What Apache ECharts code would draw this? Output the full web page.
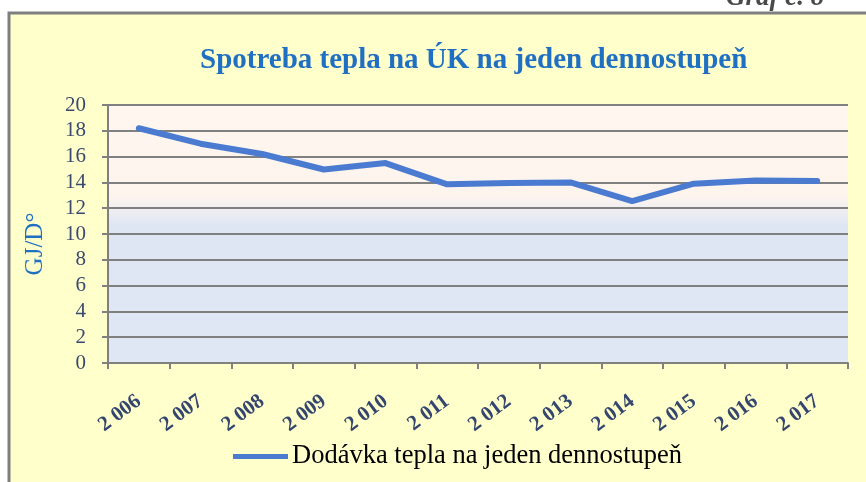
<!DOCTYPE html>
<html>
<head>
<meta charset="utf-8">
<script src="https://cdn.jsdelivr.net/npm/echarts@6/dist/echarts.min.js"></script>
<style>
    html, body { margin: 0; padding: 0; background: #ffffff; }
    #chart { width: 866px; height: 482px; }
</style>
</head>
<body>
<div id="chart"></div>
<script>
    // data
    var years = ['2 006', '2 007', '2 008', '2 009', '2 010', '2 011', '2 012', '2 013', '2 014', '2 015', '2 016', '2 017'];
    var heatPerDegreeDay = [18.2, 17.0, 16.2, 15.0, 15.5, 13.85, 13.95, 14.0, 12.55, 13.9, 14.15, 14.1];
    var seriesName = 'Dodávka tepla na jeden dennostupeň';
    var titleText = 'Spotreba tepla na ÚK na jeden dennostupeň';
    var yName = 'GJ/D°';

    var chart = echarts.init(document.getElementById('chart'));
    var serif = '"Liberation Serif", "DejaVu Serif", serif';

    chart.setOption({
        backgroundColor: '#ffffff',
        animation: false,
        graphic: [
            {
                type: 'rect',
                z: -10,
                shape: { x: 9, y: 13, width: 900, height: 500 },
                style: { fill: '#FFFFCC', stroke: '#7f7f7f', lineWidth: 3 }
            },
            {
                type: 'text',
                left: 726,
                top: -15,
                style: {
                    text: 'Graf č. 8',
                    font: 'italic bold 27px ' + serif,
                    fill: '#4a4a4a'
                }
            },
            {
                // y axis name, placed by hand so it sits a bit below the axis middle
                type: 'text',
                x: 35,
                y: 244,
                rotation: Math.PI / 2,
                style: {
                    text: yName,
                    font: '25px ' + serif,
                    fill: '#1F6FC2',
                    align: 'center',
                    verticalAlign: 'middle'
                }
            }
        ],
        title: {
            text: titleText,
            left: 195,
            top: 41,
            textStyle: {
                fontFamily: serif,
                fontWeight: 'bold',
                fontSize: 29,
                color: '#1F6FC2'
            }
        },
        legend: {
            bottom: 7,
            left: 228,
            itemWidth: 55,
            itemHeight: 5,
            itemGap: 4,
            textStyle: {
                fontFamily: serif,
                fontSize: 26.5,
                color: '#000000',
                padding: [0, 0, 0, -1]
            },
            data: [{ name: seriesName, icon: 'path://M0,0 L55,0 L55,5 L0,5 Z' }]
        },
        grid: {
            left: 108,
            right: 18,
            top: 105,
            bottom: 119,
            show: true,
            borderWidth: 0,
            backgroundColor: new echarts.graphic.LinearGradient(0, 0, 0, 1, [
                { offset: 0, color: '#FEF6EF' },
                { offset: 0.355, color: '#FDF4EE' },
                { offset: 0.47, color: '#DEE6F4' },
                { offset: 1, color: '#E0E7F4' }
            ])
        },
        xAxis: {
            type: 'category',
            data: years,
            boundaryGap: true,
            axisLine: { lineStyle: { color: '#808080', width: 2 } },
            axisTick: { show: true, length: 6, alignWithLabel: false, lineStyle: { color: '#808080', width: 2 } },
            axisLabel: {
                rotate: 37,
                margin: 36,
                fontFamily: serif,
                fontWeight: 'bold',
                fontSize: 21,
                color: '#34466E'
            }
        },
        yAxis: {
            type: 'value',
            min: 0,
            max: 20,
            interval: 2,
            axisLine: { show: true, lineStyle: { color: '#808080', width: 2 } },
            axisTick: { show: true, length: 6, lineStyle: { color: '#808080', width: 2 } },
            axisLabel: {
                margin: 22,
                fontFamily: serif,
                fontSize: 21,
                color: '#3A4A6E'
            },
            splitLine: { show: true, lineStyle: { color: '#808080', width: 2 } }
        },
        series: [
            {
                name: seriesName,
                type: 'line',
                data: heatPerDegreeDay,
                symbol: 'none',
                lineStyle: { color: '#4A7BD0', width: 6, cap: 'round', join: 'round' },
                itemStyle: { color: '#4A7BD0' }
            }
        ]
    });
</script>
</body>
</html>
